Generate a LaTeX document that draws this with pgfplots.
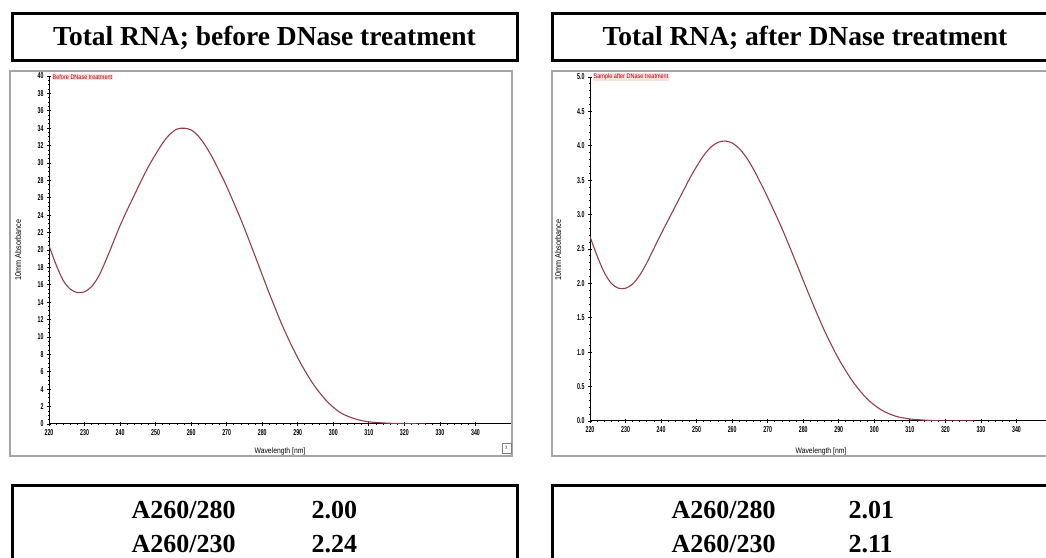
\documentclass[border=0pt]{standalone}
\usepackage{pgfplots}
\pgfplotsset{compat=1.18}
\usepackage{pgfplotstable}
\usepackage{fontspec}
\setmainfont{Liberation Serif}
\newfontfamily\narrow[FakeStretch=0.62]{Liberation Sans}
\newfontfamily\labfont[FakeStretch=0.85]{Liberation Sans}
\definecolor{curve}{RGB}{150,60,75}
\definecolor{panel}{RGB}{165,165,165}
\definecolor{legbg}{RGB}{250,225,225}

\pgfplotstableread{
wl a
220 20.5
222 18.3
224 16.5
226 15.5
228 15.1
230 15.2
232 15.8
234 17.0
236 18.8
238 20.8
240 22.8
242 24.6
244 26.3
246 28.0
248 29.6
250 31.0
252 32.3
254 33.3
256 33.9
258 34.0
260 33.8
262 33.1
264 32.0
266 30.6
268 29.0
270 27.3
274 23.5
278 19.3
282 15.0
286 11.0
290 7.6
294 4.8
298 2.7
302 1.3
306 0.6
310 0.25
315 0.1
320 0.05
326 0.0
}\before

\pgfplotstableread{
wl a
220 2.68
222 2.40
224 2.16
226 2.00
228 1.93
230 1.93
232 1.99
234 2.12
236 2.30
238 2.51
240 2.72
242 2.92
244 3.12
246 3.32
248 3.52
250 3.70
252 3.86
254 3.98
256 4.05
258 4.07
260 4.04
262 3.96
264 3.83
266 3.66
268 3.46
270 3.25
274 2.80
278 2.30
282 1.79
286 1.31
290 0.90
294 0.57
298 0.32
302 0.16
306 0.07
310 0.03
315 0.01
320 0.0
328 0.0
}\after

\pgfplotsset{spec/.style={
  scale only axis, width=462pt,
  xmin=220, xmax=350,
  axis x line=bottom, axis y line=left,
  axis line style={-, line width=1pt},
  xtick={220,230,...,340}, minor x tick num=4,
  tick align=center, major tick length=4pt, minor tick length=2.5pt,
  tick style={line width=0.8pt, black},
  ticklabel style={font=\narrow\bfseries\fontsize{8.5}{9}\selectfont},
  /pgf/number format/assume math mode=true,
  anchor=south west,
}}

\begin{document}
\begin{tikzpicture}[x=1pt,y=1pt]
\useasboundingbox (0,0) rectangle (1046,557);

% title boxes
\draw[line width=3pt] (12,543) rectangle (517,496);
\node[font=\bfseries\fontsize{27.5}{30}\selectfont] at (264.5,519.5) {Total RNA; before DNase treatment};
\draw[line width=3pt] (552,543) rectangle (1058,496);
\node[font=\bfseries\fontsize{27.5}{30}\selectfont] at (805,519.5) {Total RNA; after DNase treatment};

% panels
\draw[panel, line width=1.2pt] (10,486) rectangle (512,101);
\draw[panel, line width=1.2pt] (552,486) rectangle (1052,101);

% left chart
\begin{axis}[spec, at={(49pt,133pt)}, height=348pt,
  ymin=0, ymax=40, ytick={0,2,...,40}, minor y tick num=3]
\addplot[curve, line width=1.1pt, smooth] table[x=wl,y=a] {\before};
\end{axis}
\node[anchor=west, text=red!70!black, fill=legbg, inner sep=0.5pt, font=\labfont\fontsize{6.5}{7}\selectfont] at (52,480) {Before DNase treatment};
\node[rotate=90, font=\labfont\fontsize{8.5}{9}\selectfont] at (18,307) {10mm Absorbance};
\node[font=\labfont\fontsize{8}{9}\selectfont] at (280,106) {Wavelength [nm]};
\draw[gray, line width=0.6pt] (502,104) rectangle (511,114);
\node[font=\narrow\fontsize{5}{6}\selectfont] at (506.5,109) {X};

% right chart
\begin{axis}[spec, at={(590pt,136pt)}, height=344pt,
  ymin=0, ymax=5, ytick={0,0.5,...,5}, minor y tick num=4,
  yticklabel style={/pgf/number format/.cd, fixed, fixed zerofill, precision=1}]
\addplot[curve, line width=1.1pt, smooth] table[x=wl,y=a] {\after};
\end{axis}
\node[anchor=west, text=red!70!black, fill=legbg, inner sep=0.5pt, font=\labfont\fontsize{6.5}{7}\selectfont] at (593,480) {Sample after DNase treatment};
\node[rotate=90, font=\labfont\fontsize{8.5}{9}\selectfont] at (558,307) {10mm Absorbance};
\node[font=\labfont\fontsize{8}{9}\selectfont] at (821,106) {Wavelength [nm]};

% bottom boxes
\draw[line width=3pt] (12,72) rectangle (517,-10);
\draw[line width=3pt] (552,72) rectangle (1058,-10);
\begin{scope}[font=\bfseries\fontsize{26}{28}\selectfont]
\node[anchor=west] at (128,47) {A260/280};
\node[anchor=west] at (308,47) {2.00};
\node[anchor=west] at (128,13) {A260/230};
\node[anchor=west] at (308,13) {2.24};
\node[anchor=west] at (668,47) {A260/280};
\node[anchor=west] at (845,47) {2.01};
\node[anchor=west] at (668,13) {A260/230};
\node[anchor=west] at (845,13) {2.11};
\end{scope}
\end{tikzpicture}
\end{document}
